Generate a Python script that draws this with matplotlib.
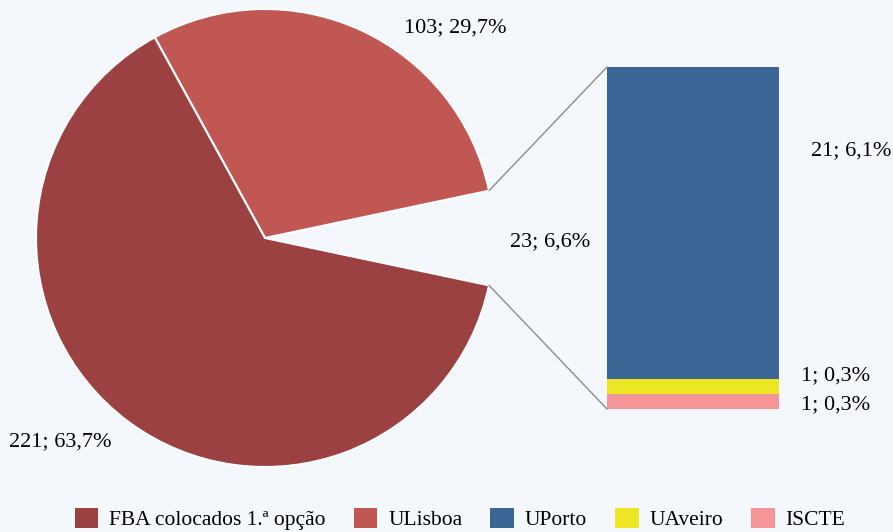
import numpy as np
import matplotlib.pyplot as plt
from matplotlib.patches import Patch, ConnectionPatch

plt.rcParams["font.family"] = ["Liberation Serif", "DejaVu Serif"]

# ----------------------------
# data
# ----------------------------
pie_names = ["Outros", "ULisboa", "FBA colocados 1.ª opção"]
pie_values = [23, 103, 221]
bar_names = ["ISCTE", "UAveiro", "UPorto"]   # bottom -> top
bar_values = [1, 1, 21]

c_fba = "#9C4141"
c_ulis = "#C05753"
c_upor = "#3A6594"
c_uave = "#EDE624"
c_isc = "#F49697"
bg = "#F4F7FB"

total = sum(pie_values)


def lab(v):
    return f"{v}; {100 * v / total:.1f}%".replace(".", ",")


W, H = 893, 532
fig = plt.figure(figsize=(W / 100, H / 100), dpi=100, facecolor=bg)

# --- pie (centre at 265,238 px, r=229 px)
cx, cy, r = 265, H - 238, 229
ax_pie = fig.add_axes([(cx - r) / W, (cy - r) / H, 2 * r / W, 2 * r / H])
ax_pie.set_facecolor("none")
start = -pie_values[0] / total * 360 / 2
wedges, _ = ax_pie.pie(
    pie_values,
    colors=["none", c_ulis, c_fba],
    startangle=start,
    counterclock=True,
    radius=1.0,
    wedgeprops=dict(edgecolor="white", linewidth=1.5),
)
wedges[0].set_edgecolor("none")
ax_pie.set_xlim(-1, 1)
ax_pie.set_ylim(-1, 1)
ax_pie.set_aspect("auto")
ax_pie.axis("off")

fs = 16
ax_pie.text(0.83, 0.92, lab(pie_values[1]), ha="center", va="center", fontsize=fs, clip_on=False)
ax_pie.text(-0.895, -0.89, lab(pie_values[2]), ha="center", va="center", fontsize=fs, clip_on=False)
ax_pie.text(1.245, -0.017, lab(pie_values[0]), ha="center", va="center", fontsize=fs, clip_on=False)

# --- bar of pie
bx0, bx1, by_top, by_bot = 607, 779, 67, 409
ax_bar = fig.add_axes([bx0 / W, (H - by_bot) / H, (bx1 - bx0) / W, (by_bot - by_top) / H])
ax_bar.set_facecolor("none")
bottom = 0
for name, v, c in zip(bar_names, bar_values, [c_isc, c_uave, c_upor]):
    ax_bar.bar(0, v, bottom=bottom, width=1.0, color=c, edgecolor="none")
    bottom += v
ax_bar.set_xlim(-0.5, 0.5)
ax_bar.set_ylim(0, sum(bar_values))
ax_bar.axis("off")

ax_bar.text(0.92, 17.4, lab(bar_values[2]), ha="center", va="center", fontsize=fs, clip_on=False)
ax_bar.text(0.826, 2.22, lab(bar_values[1]), ha="center", va="center", fontsize=fs, clip_on=False)
ax_bar.text(0.826, 0.27, lab(bar_values[0]), ha="center", va="center", fontsize=fs, clip_on=False)

# --- connector lines
th = np.deg2rad(pie_values[0] / total * 360 / 2)
for sgn, yb in [(1, sum(bar_values)), (-1, 0)]:
    con = ConnectionPatch(
        xyA=(np.cos(th), sgn * np.sin(th)), coordsA=ax_pie.transData,
        xyB=(-0.5, yb), coordsB=ax_bar.transData,
        color="#8C8C8C", linewidth=1.0,
    )
    fig.add_artist(con)

# --- legend
handles = [
    Patch(facecolor=c_fba, label="FBA colocados 1.ª opção"),
    Patch(facecolor=c_ulis, label="ULisboa"),
    Patch(facecolor=c_upor, label="UPorto"),
    Patch(facecolor=c_uave, label="UAveiro"),
    Patch(facecolor=c_isc, label="ISCTE"),
]
fig.legend(
    handles=handles, loc="center", bbox_to_anchor=(460 / W, 1 - 519 / H),
    ncol=5, frameon=False, fontsize=15.5,
    handlelength=1.1, handleheight=1.1, handletextpad=0.5, columnspacing=1.3,
)

fig.savefig("out.png", dpi=100, facecolor=bg)
